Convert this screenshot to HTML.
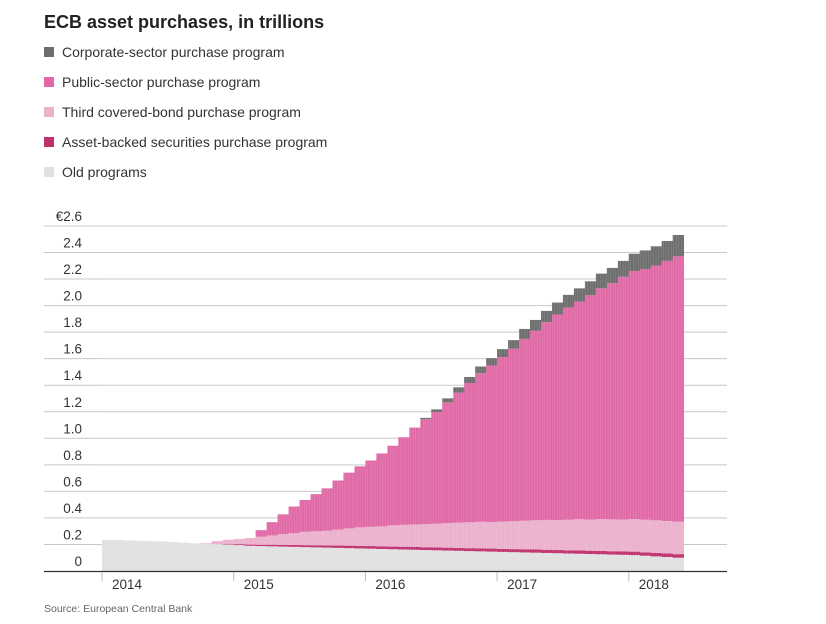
<!DOCTYPE html>
<html><head><meta charset="utf-8"><style>
body{margin:0;background:#fff;font-family:"Liberation Sans",sans-serif;}
#wrap{position:relative;width:826px;height:624px;overflow:hidden;}
</style></head><body>
<div id="wrap">
<svg id="chart" width="826" height="624">
<text x="44" y="28" font-size="18" font-weight="bold" fill="#222">ECB asset purchases, in trillions</text>
<g id="legend"></g>
<g id="grid"></g>
<g id="bars"></g>
<g id="xaxis"></g>
<text x="44" y="612" font-size="10.5" fill="#666">Source: European Central Bank</text>
</svg>
</div>
<script>
const yTicks=[0,0.2,0.4,0.6,0.8,1.0,1.2,1.4,1.6,1.8,2.0,2.2,2.4,2.6];
const yearLabels=["2014","2015","2016","2017","2018"];
const seriesNames=["Corporate-sector purchase program","Public-sector purchase program","Third covered-bond purchase program","Asset-backed securities purchase program","Old programs"];
// monthly, Jan 2014 .. May 2018 (53 months)
const oldPrograms=[0.235,0.233,0.23,0.228,0.225,0.222,0.218,0.213,0.208,0.205,0.203,0.20,0.195,0.19,0.188,0.186,0.184,0.182,0.18,0.178,0.176,0.174,0.172,0.17,0.168,0.166,0.164,0.162,0.16,0.158,0.156,0.154,0.152,0.15,0.148,0.146,0.144,0.142,0.14,0.138,0.136,0.134,0.132,0.13,0.128,0.126,0.124,0.122,0.12,0.115,0.11,0.105,0.10];
const abspp=[0,0,0,0,0,0,0,0,0,0,0.002,0.005,0.007,0.009,0.01,0.012,0.013,0.014,0.015,0.016,0.017,0.018,0.019,0.019,0.02,0.02,0.02,0.021,0.021,0.021,0.022,0.022,0.022,0.022,0.023,0.023,0.023,0.023,0.024,0.024,0.024,0.024,0.024,0.025,0.025,0.025,0.025,0.025,0.026,0.026,0.027,0.027,0.027];
const cbpp3=[0,0,0,0,0,0,0,0,0,0.005,0.02,0.03,0.04,0.05,0.06,0.07,0.08,0.09,0.1,0.105,0.11,0.12,0.13,0.14,0.145,0.15,0.16,0.165,0.17,0.175,0.18,0.185,0.19,0.195,0.2,0.2,0.205,0.21,0.215,0.22,0.225,0.225,0.23,0.235,0.235,0.24,0.24,0.24,0.245,0.245,0.245,0.245,0.245];
const pspp=[0,0,0,0,0,0,0,0,0,0,0,0,0,0,0.05,0.1,0.15,0.2,0.24,0.28,0.32,0.37,0.42,0.46,0.5,0.55,0.6,0.66,0.73,0.79,0.84,0.91,0.98,1.05,1.12,1.18,1.24,1.3,1.37,1.43,1.49,1.55,1.6,1.64,1.69,1.74,1.78,1.83,1.87,1.89,1.92,1.96,2.0];
const cspp=[0,0,0,0,0,0,0,0,0,0,0,0,0,0,0,0,0,0,0,0,0,0,0,0,0,0,0,0,0,0.01,0.02,0.03,0.04,0.045,0.05,0.055,0.06,0.065,0.075,0.08,0.085,0.09,0.095,0.1,0.105,0.11,0.115,0.12,0.13,0.14,0.145,0.15,0.16];

const NS="http://www.w3.org/2000/svg";
const X0=102, YEARW=131.7, Y0=571, PXU=132.7;
const xs=m=>X0+m*YEARW/12;
const ys=v=>Y0-v*PXU;
function mk(t,a,p){const e=document.createElementNS(NS,t);for(const k in a)e.setAttribute(k,a[k]);p.appendChild(e);return e;}
const colors=["#6e6e6e","#e069a6","#ebb1cd","#c0306f","#e1e1e1"];

const lg=document.getElementById('legend');
seriesNames.forEach((n,i)=>{
  const y=53+i*30;
  const r=mk('rect',{x:44,y:y-6,width:10,height:10,fill:colors[i]},lg);
  
  
  const t=mk('text',{x:62,y:y+4,'font-size':14,fill:'#333'},lg);
  t.textContent=n;
  
  
});

const g=document.getElementById('grid');
yTicks.forEach((v,i)=>{
  if(v>0){const l=mk('line',{x1:44,x2:727,y1:ys(v),y2:ys(v),stroke:'#c8c8c8','stroke-width':1},g);
  
  }
  const t=mk('text',{x:82,y:ys(v)-5,'font-size':13.5,fill:'#333','text-anchor':'end'},g);
  t.textContent=(i===yTicks.length-1?'€':'')+(v===0?'0':v.toFixed(1));
  
  
});

const b=document.getElementById('bars');
const stack=[oldPrograms,abspp,cbpp3,pspp,cspp];
const sc=[colors[4],colors[3],colors[2],colors[1],colors[0]];
for(let m=0;m<oldPrograms.length;m++){
  let base=0;
  stack.forEach((s,k)=>{
    const v=s[m]; if(v<=0)return;
    const r=mk('rect',{x:xs(m),y:ys(base+v),width:YEARW/12+0.3,height:v*PXU,fill:sc[k]},b);
    
    
    base+=v;
  });
}
for(let x=X0;x<xs(oldPrograms.length);x+=2.53){
  mk('line',{x1:x,x2:x,y1:200,y2:Y0,stroke:'rgba(255,255,255,0.18)','stroke-width':0.6},b);
}

const xa=document.getElementById('xaxis');
const base=mk('line',{x1:44,x2:727,y1:Y0+0.5,y2:Y0+0.5,stroke:'#333','stroke-width':1.2},xa);


yearLabels.forEach((y,i)=>{
  const x=xs(i*12);
  mk('line',{x1:x,x2:x,y1:Y0+1,y2:Y0+10,stroke:'#bbb','stroke-width':1},xa);
  const t=mk('text',{x:x+10,y:Y0+18,'font-size':13.5,fill:'#333'},xa);
  t.textContent=y;
  
  
});
</script>
</body></html>
